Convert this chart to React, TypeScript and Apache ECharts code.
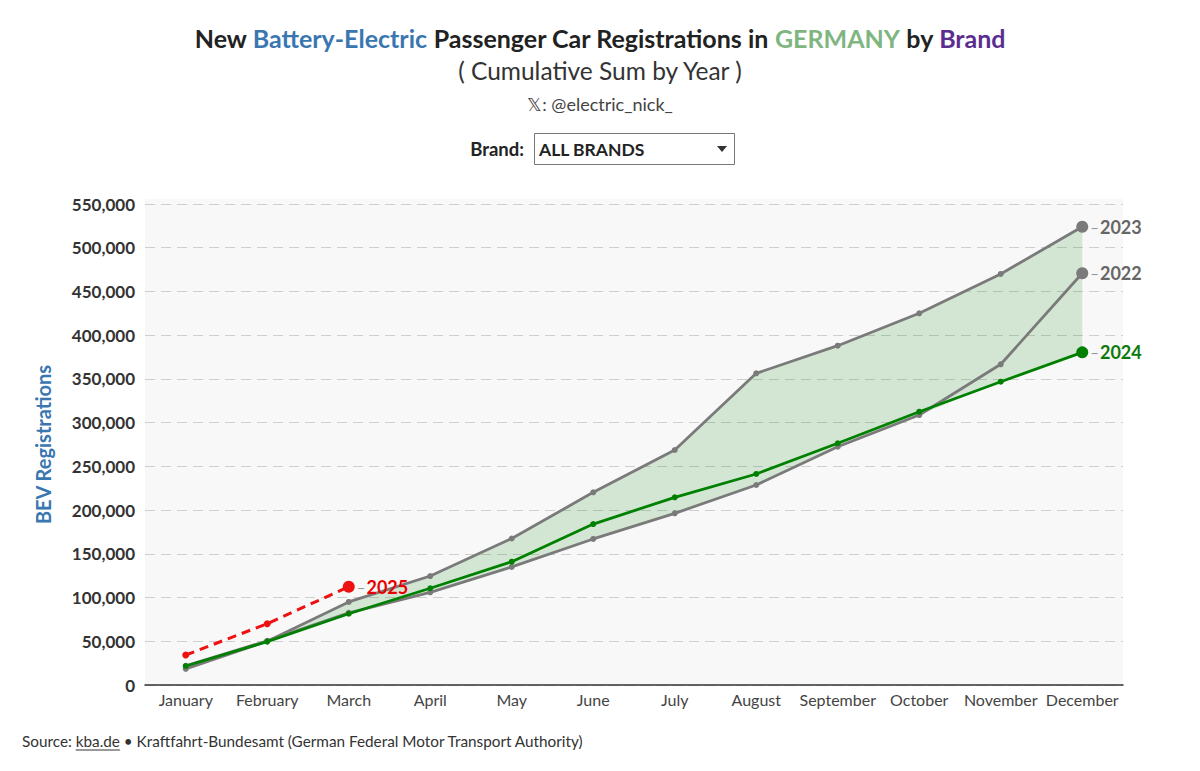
import React, { useEffect, useRef } from "react";
import * as echarts from "echarts";

const months = ["January","February","March","April","May","June","July","August","September","October","November","December"];
const y2022 = [22000, 50500, 82500, 106000, 135000, 167000, 196300, 228700, 272500, 308700, 366700, 470800];
const y2023 = [18500, 50000, 95000, 124600, 167500, 220300, 268700, 356400, 388000, 425000, 470000, 524000];
const y2024 = [21700, 49600, 81500, 110600, 141000, 184000, 214600, 241300, 276400, 312500, 346800, 380400];
const y2025 = [34300, 70100, 112400, null, null, null, null, null, null, null, null, null];
const yTicks = { min: 0, max: 550000, interval: 50000 };

const FONT = "Lato, 'Noto Sans', sans-serif";

export default function App() {
  const ref = useRef<HTMLDivElement>(null);
  useEffect(() => {
    document.body.style.margin = "0";
    if (!ref.current) return;
    const chart = echarts.init(ref.current, undefined, { renderer: "svg" });

    const bandLow = months.map((_, i) => Math.min(y2022[i], y2023[i], y2024[i]));
    const bandDiff = months.map((_, i) => Math.max(y2022[i], y2023[i], y2024[i]) - bandLow[i]);

    const srcSize = 15.3;
    const ctx = document.createElement("canvas").getContext("2d")!;
    ctx.font = `${srcSize}px ${FONT}`;
    const srcX = 22;
    const w1 = ctx.measureText("Source: ").width;
    const w2 = ctx.measureText("kba.de").width;

    const endLabel = (name: string, color: string) => ({
      show: true,
      position: "right",
      distance: 2,
      formatter: `{d|–}{y|${name}}`,
      rich: {
        d: { color: "#999", fontSize: 15, fontFamily: FONT, padding: [0, 1, 0, 0] },
        y: { color, fontSize: 18, fontWeight: "bold", fontFamily: FONT },
      },
    });

    const mkData = (arr: (number | null)[], name: string, color: string, lastIdx: number) =>
      arr.map((v, i) =>
        i === lastIdx
          ? { value: v, symbolSize: 12, label: endLabel(name, color) }
          : v
      );

    const option: any = {
      animation: false,
      textStyle: { fontFamily: FONT },
      grid: { left: 145, right: 77, top: 204, bottom: 86, containLabel: false },
      graphic: [
        { type: "rect", z: -10, silent: true, shape: { x: 145, y: 199, width: 978, height: 486 }, style: { fill: "#f8f8f8" } },
        {
          type: "text", x: 600, y: 38,
          style: {
            text: "{a|New }{b|Battery-Electric}{a| Passenger Car Registrations in }{g|GERMANY}{a| by }{p|Brand}",
            align: "center", verticalAlign: "middle",
            rich: {
              a: { fontSize: 25, fontWeight: "bold", fill: "#222", fontFamily: FONT },
              b: { fontSize: 25, fontWeight: "bold", fill: "#3a76b0", fontFamily: FONT },
              g: { fontSize: 25, fontWeight: "bold", fill: "#7fb57f", fontFamily: FONT },
              p: { fontSize: 25, fontWeight: "bold", fill: "#5b2d90", fontFamily: FONT },
            },
          },
        },
        { type: "text", x: 600, y: 70, style: { text: "( Cumulative Sum by Year )", align: "center", verticalAlign: "middle", fontSize: 24.5, fill: "#333", fontFamily: FONT } },
        { type: "text", x: 600, y: 104, style: { text: "𝕏: @electric_nick_", align: "center", verticalAlign: "middle", fontSize: 18, fill: "#444", fontFamily: FONT } },
        { type: "text", x: 524, y: 149, style: { text: "Brand:", align: "right", verticalAlign: "middle", fontSize: 18.5, fontWeight: "bold", fill: "#222", fontFamily: FONT } },
        { type: "rect", shape: { x: 534.5, y: 133.5, width: 200, height: 31 }, style: { fill: "#fff", stroke: "#777", lineWidth: 1 } },
        { type: "text", x: 539, y: 149, style: { text: "ALL BRANDS", align: "left", verticalAlign: "middle", fontSize: 17.5, fontWeight: "bold", fill: "#222", fontFamily: FONT } },
        { type: "polygon", shape: { points: [[717, 146], [727, 146], [722, 152]] }, style: { fill: "#333" } },
        {
          type: "text", x: srcX, y: 741,
          style: {
            text: "Source: kba.de • Kraftfahrt-Bundesamt (German Federal Motor Transport Authority)",
            align: "left", verticalAlign: "middle", fontSize: srcSize, fill: "#333", fontFamily: FONT,
          },
        },
        { type: "line", shape: { x1: srcX + w1, y1: 750, x2: srcX + w1 + w2, y2: 750 }, style: { stroke: "#333", lineWidth: 1 } },
      ],
      xAxis: {
        type: "category",
        data: months,
        boundaryGap: true,
        axisLine: { lineStyle: { color: "#333", width: 1.5 } },
        axisTick: { alignWithLabel: true, length: 5, lineStyle: { color: "#333", width: 1.5 } },
        axisLabel: { color: "#444", fontSize: 16, margin: 6, interval: 0, fontFamily: FONT },
        splitLine: { show: false },
      },
      yAxis: {
        type: "value",
        min: yTicks.min,
        max: yTicks.max,
        interval: yTicks.interval,
        name: "BEV Registrations",
        nameLocation: "middle",
        nameGap: 92,
        nameTextStyle: { color: "#3a76b0", fontSize: 20, fontWeight: "bold", fontFamily: FONT },
        axisLine: { show: false },
        axisTick: { show: false },
        axisLabel: {
          color: "#333", fontSize: 17, fontWeight: "bold", margin: 10, fontFamily: FONT,
          formatter: (v: number) => v.toLocaleString("en-US"),
        },
        splitLine: { lineStyle: { color: "#cfcfcf", type: [10, 6], width: 1.2 } },
      },
      series: [
        {
          name: "bandLow", type: "line", stack: "band", data: bandLow, symbol: "none",
          lineStyle: { opacity: 0 }, silent: true, z: 1,
        },
        {
          name: "band", type: "line", stack: "band", data: bandDiff, symbol: "none",
          lineStyle: { opacity: 0 }, areaStyle: { color: "rgba(0,128,0,0.15)", opacity: 1 }, silent: true, z: 1,
        },
        {
          name: "2022", type: "line", data: mkData(y2022, "2022", "#666", 11), symbol: "circle", symbolSize: 6,
          lineStyle: { color: "#7a7a7a", width: 2.8 }, itemStyle: { color: "#7a7a7a" }, z: 3,
        },
        {
          name: "2023", type: "line", data: mkData(y2023, "2023", "#666", 11), symbol: "circle", symbolSize: 6,
          lineStyle: { color: "#7a7a7a", width: 2.8 }, itemStyle: { color: "#7a7a7a" }, z: 3,
        },
        {
          name: "2024", type: "line", data: mkData(y2024, "2024", "#0b7a0b", 11), symbol: "circle", symbolSize: 6,
          lineStyle: { color: "#008000", width: 2.8 }, itemStyle: { color: "#008000" }, z: 4,
        },
        {
          name: "2025", type: "line", data: mkData(y2025, "2025", "#e80000", 2), symbol: "circle", symbolSize: 7,
          connectNulls: false,
          lineStyle: { color: "#ee1111", width: 3, type: [9, 6] }, itemStyle: { color: "#ee1111" }, z: 5,
        },
      ],
    };
    chart.setOption(option);
    return () => chart.dispose();
  }, []);
  return <div ref={ref} style={{ width: 1200, height: 771 }} />;
}
